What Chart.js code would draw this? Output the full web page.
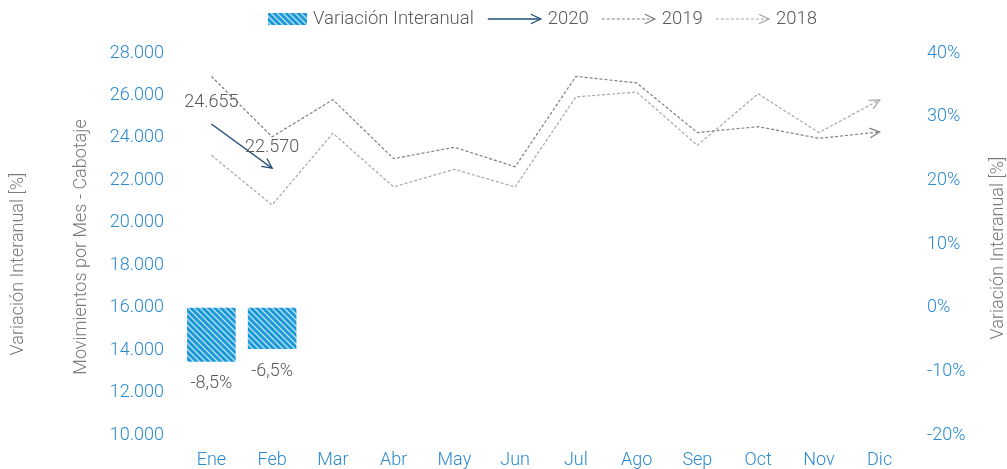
<!DOCTYPE html>
<html>
<head>
<meta charset="utf-8">
<script src="https://cdn.jsdelivr.net/npm/chart.js@4.4.1/dist/chart.umd.min.js"></script>
<style>
  html, body { margin: 0; padding: 0; background: #fff; }
  #wrap { width: 1007px; height: 469px; }
</style>
</head>
<body>
<div id="wrap"><canvas id="movimientos" width="1007" height="469"></canvas></div>
<script>
// data
const months = ["Ene", "Feb", "Mar", "Abr", "May", "Jun", "Jul", "Ago", "Sep", "Oct", "Nov", "Dic"];
const movs2020 = [24655, 22570, null, null, null, null, null, null, null, null, null, null];
const movs2019 = [26900, 24050, 25800, 23020, 23560, 22640, 26900, 26590, 24250, 24530, 23980, 24280];
const movs2018 = [23180, 20840, 24220, 21690, 22520, 21690, 25930, 26160, 23650, 26080, 24250, 25790];
const variacion = [-8.5, -6.5, null, null, null, null, null, null, null, null, null, null];
const leftTicks = { min: 10000, max: 28000, step: 2000 };
const rightTicks = { min: -20, max: 40, step: 10 };

const BLUE = "#2a8ad0";
const TEXT = "#595959";
const TITLE = "#7a7a7a";
const FONT = "Roboto";

function miles(v) {
  return String(v).replace(/\B(?=(\d{3})+(?!\d))/g, ".");
}

function makeHatch() {
  const c = document.createElement("canvas");
  c.width = 6;
  c.height = 6;
  const g = c.getContext("2d");
  g.fillStyle = "#1898d6";
  g.fillRect(0, 0, 6, 6);
  g.strokeStyle = "rgba(215,238,252,0.85)";
  g.lineWidth = 1.3;
  g.beginPath();
  g.moveTo(-1, -1); g.lineTo(7, 7);
  g.moveTo(-1, 5); g.lineTo(1, 7);
  g.moveTo(5, -1); g.lineTo(7, 1);
  g.stroke();
  return g.createPattern(c, "repeat");
}
const hatch = makeHatch();

function arrowHead(ctx, x, y, angle, color) {
  ctx.save();
  ctx.setLineDash([]);
  ctx.strokeStyle = color;
  ctx.lineWidth = 1.3;
  ctx.beginPath();
  const len = 11, spread = 0.45;
  ctx.moveTo(x - len * Math.cos(angle - spread), y - len * Math.sin(angle - spread));
  ctx.lineTo(x, y);
  ctx.lineTo(x - len * Math.cos(angle + spread), y - len * Math.sin(angle + spread));
  ctx.stroke();
  ctx.restore();
}

const extras = {
  id: "extras",
  afterDraw(chart) {
    const ctx = chart.ctx;
    const area = chart.chartArea;

    // arrow heads at the end of every line
    chart.data.datasets.forEach((ds, i) => {
      if (ds.type !== "line") return;
      const pts = chart.getDatasetMeta(i).data;
      let last = -1;
      ds.data.forEach((v, j) => { if (v !== null) last = j; });
      if (last < 1) return;
      const a = pts[last - 1], b = pts[last];
      arrowHead(ctx, b.x, b.y, Math.atan2(b.y - a.y, b.x - a.x), ds.borderColor);
    });

    // value labels
    ctx.save();
    ctx.font = "300 18px " + FONT;
    ctx.fillStyle = TEXT;
    ctx.textAlign = "center";
    ctx.textBaseline = "middle";
    const lineIdx = chart.data.datasets.findIndex(d => d.label === "2020");
    chart.getDatasetMeta(lineIdx).data.forEach((p, j) => {
      const v = movs2020[j];
      if (v === null) return;
      ctx.fillText(miles(v), p.x, p.y - 21);
    });
    const barIdx = chart.data.datasets.findIndex(d => d.type === "bar");
    chart.getDatasetMeta(barIdx).data.forEach((p, j) => {
      const v = variacion[j];
      if (v === null) return;
      ctx.fillText(String(v).replace(".", ",") + "%", p.x, p.y + 22);
    });
    ctx.restore();

    // axis titles, all reading bottom to top
    ctx.save();
    ctx.font = "300 18px " + FONT;
    ctx.fillStyle = TITLE;
    ctx.textAlign = "center";
    ctx.textBaseline = "middle";
    const mid = (area.top + area.bottom) / 2;
    [["Variación Interanual [%]", 18, mid + 20],
     ["Movimientos por Mes - Cabotaje", 81, mid + 3],
     ["Variación Interanual [%]", 998, mid + 4]].forEach(([t, x, y]) => {
      ctx.save();
      ctx.translate(x, y);
      ctx.rotate(-Math.PI / 2);
      ctx.fillText(t, 0, 0);
      ctx.restore();
    });
    ctx.restore();

    // legend
    ctx.save();
    ctx.font = "300 18.5px " + FONT;
    ctx.textAlign = "left";
    ctx.textBaseline = "middle";
    const ly = 19;
    let x = 268;
    ctx.fillStyle = hatch;
    ctx.fillRect(x, ly - 6, 39, 12);
    x += 45;
    ctx.fillStyle = TEXT;
    ctx.fillText("Variación Interanual", x, ly);
    x += ctx.measureText("Variación Interanual").width + 14;
    chart.data.datasets.filter(d => d.type === "line").forEach(ds => {
      ctx.save();
      ctx.strokeStyle = ds.borderColor;
      ctx.lineWidth = ds.borderWidth;
      ctx.setLineDash(ds.borderDash || []);
      ctx.beginPath();
      ctx.moveTo(x, ly);
      ctx.lineTo(x + 53, ly);
      ctx.stroke();
      ctx.restore();
      arrowHead(ctx, x + 53, ly, 0, ds.borderColor);
      x += 60;
      ctx.fillStyle = TEXT;
      ctx.fillText(ds.label, x, ly);
      x += ctx.measureText(ds.label).width + 13;
    });
    ctx.restore();
  }
};

Chart.defaults.font.family = FONT;
Chart.defaults.font.weight = "300";
Chart.defaults.font.size = 18;

const ctx = document.getElementById("movimientos").getContext("2d");
new Chart(ctx, {
  data: {
    labels: months,
    datasets: [
      {
        type: "line",
        label: "2020",
        data: movs2020,
        yAxisID: "y",
        borderColor: "#1f4e79",
        borderWidth: 1.5,
        pointRadius: 0,
        tension: 0,
        spanGaps: false,
      },
      {
        type: "line",
        label: "2019",
        data: movs2019,
        yAxisID: "y",
        borderColor: "#7f7f7f",
        borderWidth: 1.2,
        borderDash: [3, 2],
        pointRadius: 0,
        tension: 0,
      },
      {
        type: "line",
        label: "2018",
        data: movs2018,
        yAxisID: "y",
        borderColor: "#a6a6a6",
        borderWidth: 1.2,
        borderDash: [3, 2],
        pointRadius: 0,
        tension: 0,
      },
      {
        type: "bar",
        label: "Variación Interanual",
        data: variacion,
        yAxisID: "y1",
        backgroundColor: hatch,
        barPercentage: 1,
        categoryPercentage: 0.8,
      },
    ],
  },
  options: {
    responsive: false,
    animation: false,
    layout: { padding: { top: 53, left: 0, right: 0, bottom: 0 } },
    plugins: {
      legend: { display: false },
      tooltip: { enabled: false },
    },
    scales: {
      x: {
        grid: { display: false, drawTicks: false },
        border: { display: false },
        ticks: { color: BLUE, padding: 15 },
        afterFit: (scale) => { scale.height = 34; },
      },
      y: {
        position: "left",
        min: leftTicks.min,
        max: leftTicks.max,
        grid: { display: false, drawTicks: false },
        border: { display: false },
        ticks: { stepSize: leftTicks.step, color: BLUE, padding: 17, callback: (v) => miles(v) },
        afterFit: (scale) => { scale.width = 181; },
      },
      y1: {
        position: "right",
        min: rightTicks.min,
        max: rightTicks.max,
        grid: { display: false, drawTicks: false },
        border: { display: false },
        ticks: { stepSize: rightTicks.step, color: BLUE, padding: 17, callback: (v) => v + "%" },
        afterFit: (scale) => { scale.width = 97; },
      },
    },
  },
  plugins: [extras],
});
</script>
</body>
</html>
